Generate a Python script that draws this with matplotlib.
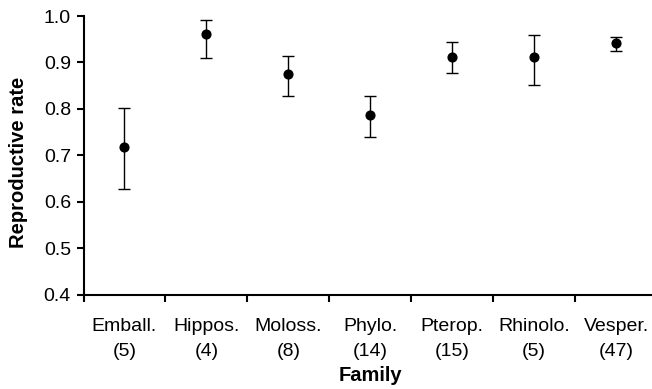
import matplotlib
matplotlib.use("Agg")
import matplotlib.pyplot as plt
import numpy as np

families = ["Emball.", "Hippos.", "Moloss.", "Phylo.", "Pterop.", "Rhinolo.", "Vesper."]
counts = [5, 4, 8, 14, 15, 5, 47]
rate = [0.718, 0.962, 0.876, 0.786, 0.912, 0.912, 0.941]
upper = [0.802, 0.991, 0.914, 0.828, 0.943, 0.960, 0.954]
lower = [0.627, 0.909, 0.828, 0.739, 0.878, 0.851, 0.925]

plt.rcParams['font.family'] = ['Liberation Sans', 'DejaVu Sans']

fig = plt.figure(figsize=(6.52, 3.89), dpi=100)
ax = fig.add_axes([83.5 / 652, 1 - 294.5 / 389, (657 - 83.5) / 652, (294.5 - 16) / 389])

x = np.arange(len(families))
rate_a = np.array(rate)
yerr = [rate_a - np.array(lower), np.array(upper) - rate_a]
ax.errorbar(x, rate_a, yerr=yerr, fmt='o', color='black', ms=6.3, elinewidth=1,
            capsize=4.5, capthick=1, clip_on=False)

ax.set_xlim(-0.5, len(families) - 0.5)
ax.set_ylim(0.4, 1.0)
ax.set_yticks(np.arange(0.4, 1.01, 0.1))
ax.set_yticklabels([f"{v:.1f}" for v in np.arange(0.4, 1.01, 0.1)], fontsize=14)

ax.set_xticks(np.arange(-0.5, len(families) - 0.4, 1.0))
ax.set_xticklabels([])
ax.set_xticks(x, minor=True)
ax.set_xticklabels([f"{f}\n({n})" for f, n in zip(families, counts)], minor=True,
                   fontsize=14, linespacing=1.6)
ax.tick_params(axis='x', which='minor', length=0, pad=17)
ax.tick_params(axis='x', which='major', length=5, width=1.5, direction='out')
ax.tick_params(axis='y', length=5, width=1.5, direction='out', pad=4)

for s in ['top', 'right']:
    ax.spines[s].set_visible(False)
for s in ['left', 'bottom']:
    ax.spines[s].set_linewidth(1.5)

ax.set_ylabel("Reproductive rate", fontsize=14.5, fontweight='bold')
ax.yaxis.set_label_coords(-0.097, 0.476)
ax.set_xlabel("Family", fontsize=14.5, fontweight='bold')
ax.xaxis.set_label_coords(0.5, -0.257)

fig.savefig("out.png", dpi=100)
